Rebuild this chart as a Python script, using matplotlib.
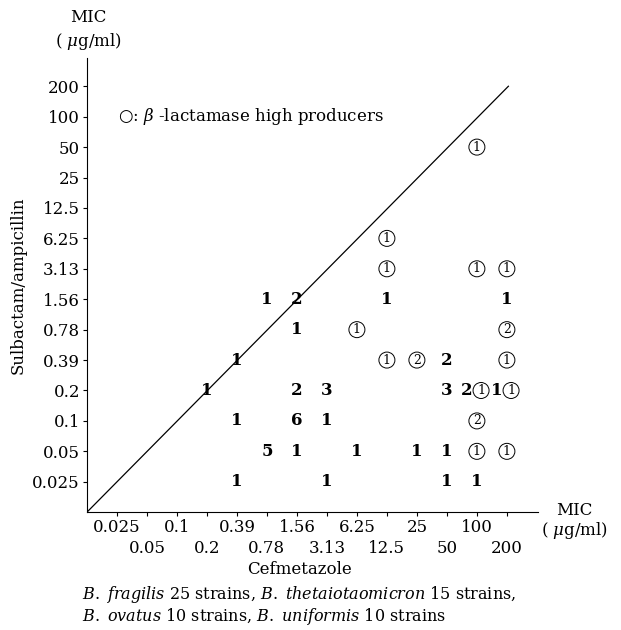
import matplotlib
matplotlib.use("Agg")
import matplotlib.pyplot as plt

plt.rcParams['font.family'] = ['DejaVu Serif']
plt.rcParams['mathtext.fontset'] = 'custom'
plt.rcParams['mathtext.rm'] = 'DejaVu Serif'
plt.rcParams['mathtext.it'] = 'DejaVu Serif:italic'

# MIC levels (ug/ml), same for both axes
levels = ["0.025", "0.05", "0.1", "0.2", "0.39", "0.78", "1.56",
          "3.13", "6.25", "12.5", "25", "50", "100", "200"]

# plain counts: cefmetazole MIC, sulbactam/ampicillin MIC, number of strains
plain_x = ["0.78", "1.56", "12.5", "200",
           "1.56",
           "0.39", "50",
           "0.2", "1.56", "3.13", "50", "100", "200",
           "0.39", "1.56", "3.13",
           "0.78", "1.56", "6.25", "25", "50",
           "0.39", "3.13", "50", "100"]
plain_y = ["1.56", "1.56", "1.56", "1.56",
           "0.78",
           "0.39", "0.39",
           "0.2", "0.2", "0.2", "0.2", "0.2", "0.2",
           "0.1", "0.1", "0.1",
           "0.05", "0.05", "0.05", "0.05", "0.05",
           "0.025", "0.025", "0.025", "0.025"]
plain_n = [1, 2, 1, 1,
           1,
           1, 2,
           1, 2, 3, 3, 2, 1,
           1, 6, 1,
           5, 1, 1, 1, 1,
           1, 1, 1, 1]

# circled counts: beta-lactamase high producers
circ_x = ["100", "12.5", "12.5", "100", "200",
          "6.25", "200",
          "12.5", "25", "200",
          "100", "200",
          "100",
          "100", "200"]
circ_y = ["50", "6.25", "3.13", "3.13", "3.13",
          "0.78", "0.78",
          "0.39", "0.39", "0.39",
          "0.2", "0.2",
          "0.1",
          "0.05", "0.05"]
circ_n = [1, 1, 1, 1, 1,
          1, 2,
          1, 2, 1,
          1, 1,
          2,
          1, 1]

fig = plt.figure(figsize=(6.21, 6.30), dpi=100)
ax = fig.add_axes([0.140, 0.187, 0.726, 0.721])

idx = {v: i for i, v in enumerate(levels)}
shared = set(zip(plain_x, plain_y)) & set(zip(circ_x, circ_y))

for x, y, n in zip(plain_x, plain_y, plain_n):
    dx = -7 if (x, y) in shared else 0
    ax.annotate(str(n), (idx[x], idx[y]), xytext=(dx, 0), textcoords='offset points',
                ha='center', va='center', fontsize=12, fontweight='bold')

for x, y, n in zip(circ_x, circ_y, circ_n):
    dx = 3 if (x, y) in shared else 0
    ax.annotate(str(n), (idx[x], idx[y]), xytext=(dx, 0), textcoords='offset points',
                ha='center', va='center', fontsize=9,
                bbox=dict(boxstyle='circle,pad=0.12', fc='none', ec='black', lw=0.7))

# diagonal line of equal MIC
ax.plot([-1, 13.05], [-1, 13.0], color='black', lw=0.9)

ax.set_xlim(-1, 14.03)
ax.set_ylim(-1, 13.93)
for s in ['top', 'right']:
    ax.spines[s].set_visible(False)

ax.set_yticks(range(len(levels)))
ax.set_yticklabels(levels, fontsize=12)

# x labels in two staggered rows
ax.set_xticks(range(0, len(levels), 2))
ax.set_xticklabels(levels[0::2], fontsize=12)
ax.set_xticks(range(1, len(levels), 2), minor=True)
ax.set_xticklabels(levels[1::2], minor=True, fontsize=12)
ax.tick_params(axis='both', which='both', direction='out', length=3, width=0.8)
ax.tick_params(axis='x', which='major', pad=2)
ax.tick_params(axis='x', which='minor', pad=17)
ax.tick_params(axis='y', pad=2)

ax.set_ylabel("Sulbactam/ampicillin", fontsize=12, labelpad=4)
ax.set_xlabel("Cefmetazole", fontsize=12, labelpad=2)
ax.xaxis.set_label_coords(0.472, -0.108)

fig.text(0.142, 0.972, "MIC", ha='center', va='center', fontsize=12)
fig.text(0.142, 0.934, "( $\\mu$g/ml)", ha='center', va='center', fontsize=12)
fig.text(0.925, 0.190, "MIC", ha='center', va='center', fontsize=12)
fig.text(0.925, 0.158, "( $\\mu$g/ml)", ha='center', va='center', fontsize=12)

ax.text(0.05, 12, "\u25cb: $\\beta$ -lactamase high producers", ha='left', va='center', fontsize=12)

fig.text(0.132, 0.056, "$\\mathit{B.\\ fragilis}$ 25 strains, $\\mathit{B.\\ thetaiotaomicron}$ 15 strains,",
         ha='left', va='center', fontsize=11.5)
fig.text(0.132, 0.022, "$\\mathit{B.\\ ovatus}$ 10 strains, $\\mathit{B.\\ uniformis}$ 10 strains",
         ha='left', va='center', fontsize=11.5)

fig.savefig("out.png", dpi=100)
